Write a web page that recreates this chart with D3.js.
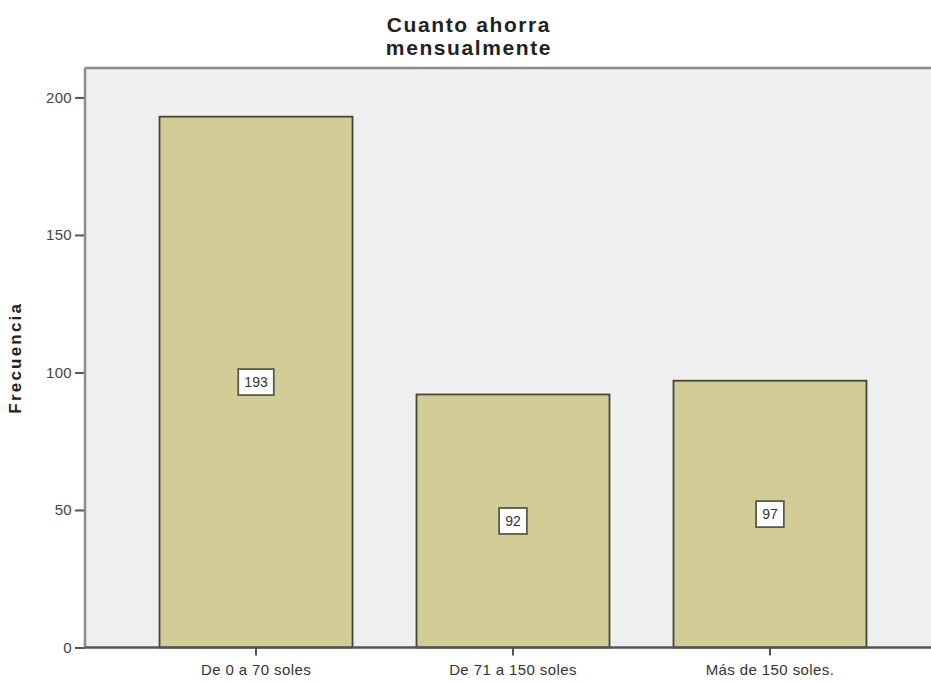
<!DOCTYPE html>
<html>
<head>
<meta charset="utf-8">
<script src="https://cdn.jsdelivr.net/npm/d3@7"></script>
<style>
  html, body { margin: 0; padding: 0; background: #ffffff; }
  svg { display: block; font-family: "Liberation Sans", Arial, sans-serif; }
</style>
</head>
<body>
<svg id="chart" width="931" height="684"></svg>
<script>
// Savings per month: frequency by bracket
const categories = ["De 0 a 70 soles", "De 71 a 150 soles", "Más de 150 soles."];
const frequencies = [193, 92, 97];
const yTicks = [0, 50, 100, 150, 200];
const titleLines = ["Cuanto ahorra", "mensualmente"];
const yLabel = "Frecuencia";

const svg = d3.select("#chart");
const plot = { left: 85, right: 941, top: 68, bottom: 647.5 };

const x = d3.scaleBand()
  .domain(categories)
  .range([plot.left, plot.right])
  .paddingInner(0.249)
  .paddingOuter(0.29);

const y = d3.scaleLinear()
  .domain([0, 210.7])
  .range([plot.bottom, plot.top]);

// plot background
svg.append("rect")
  .attr("x", plot.left).attr("y", plot.top)
  .attr("width", plot.right - plot.left).attr("height", plot.bottom - plot.top)
  .attr("fill", "#efefef");

// top frame line
svg.append("line")
  .attr("x1", plot.left).attr("x2", plot.right)
  .attr("y1", plot.top).attr("y2", plot.top)
  .attr("stroke", "#8c8c8c").attr("stroke-width", 2.5);

// bars
svg.append("g").selectAll("rect")
  .data(categories)
  .join("rect")
  .attr("x", d => x(d))
  .attr("y", (d, i) => y(frequencies[i]))
  .attr("width", x.bandwidth())
  .attr("height", (d, i) => y(0) - y(frequencies[i]))
  .attr("fill", "#d2cd97")
  .attr("stroke", "#45453a")
  .attr("stroke-width", 1.8);

// value labels centered on each bar
const lab = svg.append("g").selectAll("g")
  .data(categories)
  .join("g")
  .attr("transform", (d, i) => `translate(${x(d) + x.bandwidth() / 2},${(y(frequencies[i]) + y(0)) / 2})`);
lab.append("text")
  .attr("text-anchor", "middle")
  .attr("dy", "0.36em")
  .attr("font-size", 14)
  .attr("fill", "#333")
  .text((d, i) => frequencies[i]);
lab.insert("rect", "text")
  .each(function () {
    const bb = this.parentNode.querySelector("text").getBBox();
    d3.select(this)
      .attr("x", -bb.width / 2 - 6)
      .attr("width", bb.width + 12);
  })
  .attr("y", -13)
  .attr("height", 26)
  .attr("fill", "#ffffff")
  .attr("stroke", "#5a5a4a")
  .attr("stroke-width", 1.8);

// y axis
const yAxis = svg.append("g")
  .attr("transform", `translate(${plot.left},0)`)
  .call(d3.axisLeft(y).tickValues(yTicks).tickSize(10).tickPadding(3).tickSizeOuter(0));
yAxis.select(".domain").remove();
yAxis.append("line")
  .attr("x1", 0).attr("x2", 0)
  .attr("y1", plot.top).attr("y2", plot.bottom)
  .attr("stroke", "#8c8c8c").attr("stroke-width", 2.5);
yAxis.selectAll(".tick line").attr("stroke", "#555").attr("stroke-width", 2);
yAxis.selectAll(".tick text")
  .attr("font-size", 15).attr("fill", "#444")
  .attr("letter-spacing", "0.3px")
  .attr("font-family", "Liberation Sans, Arial, sans-serif");

// x axis
const xAxis = svg.append("g")
  .attr("transform", `translate(0,${plot.bottom})`)
  .call(d3.axisBottom(x).tickSize(8).tickPadding(9).tickSizeOuter(0));
xAxis.select(".domain").remove();
xAxis.append("line")
  .attr("x1", plot.left).attr("x2", plot.right)
  .attr("y1", 0).attr("y2", 0)
  .attr("stroke", "#555").attr("stroke-width", 2.5);
xAxis.selectAll(".tick line").attr("stroke", "#555").attr("stroke-width", 2);
xAxis.selectAll(".tick text")
  .attr("font-size", 15).attr("fill", "#333")
  .attr("letter-spacing", "0.4px")
  .attr("font-family", "Liberation Sans, Arial, sans-serif");

// y axis title
svg.append("text")
  .attr("transform", `translate(21,${(plot.top + plot.bottom) / 2}) rotate(-90)`)
  .attr("text-anchor", "middle")
  .attr("font-size", 17)
  .attr("font-weight", "bold")
  .attr("letter-spacing", "2.2px")
  .attr("fill", "#222")
  .text(yLabel);

// chart title
svg.append("g").selectAll("text")
  .data(titleLines)
  .join("text")
  .attr("x", 469)
  .attr("y", (d, i) => 32 + i * 23)
  .attr("text-anchor", "middle")
  .attr("font-size", 21)
  .attr("font-weight", "bold")
  .attr("letter-spacing", "1.6px")
  .attr("fill", "#222")
  .text(d => d);
</script>
</body>
</html>
